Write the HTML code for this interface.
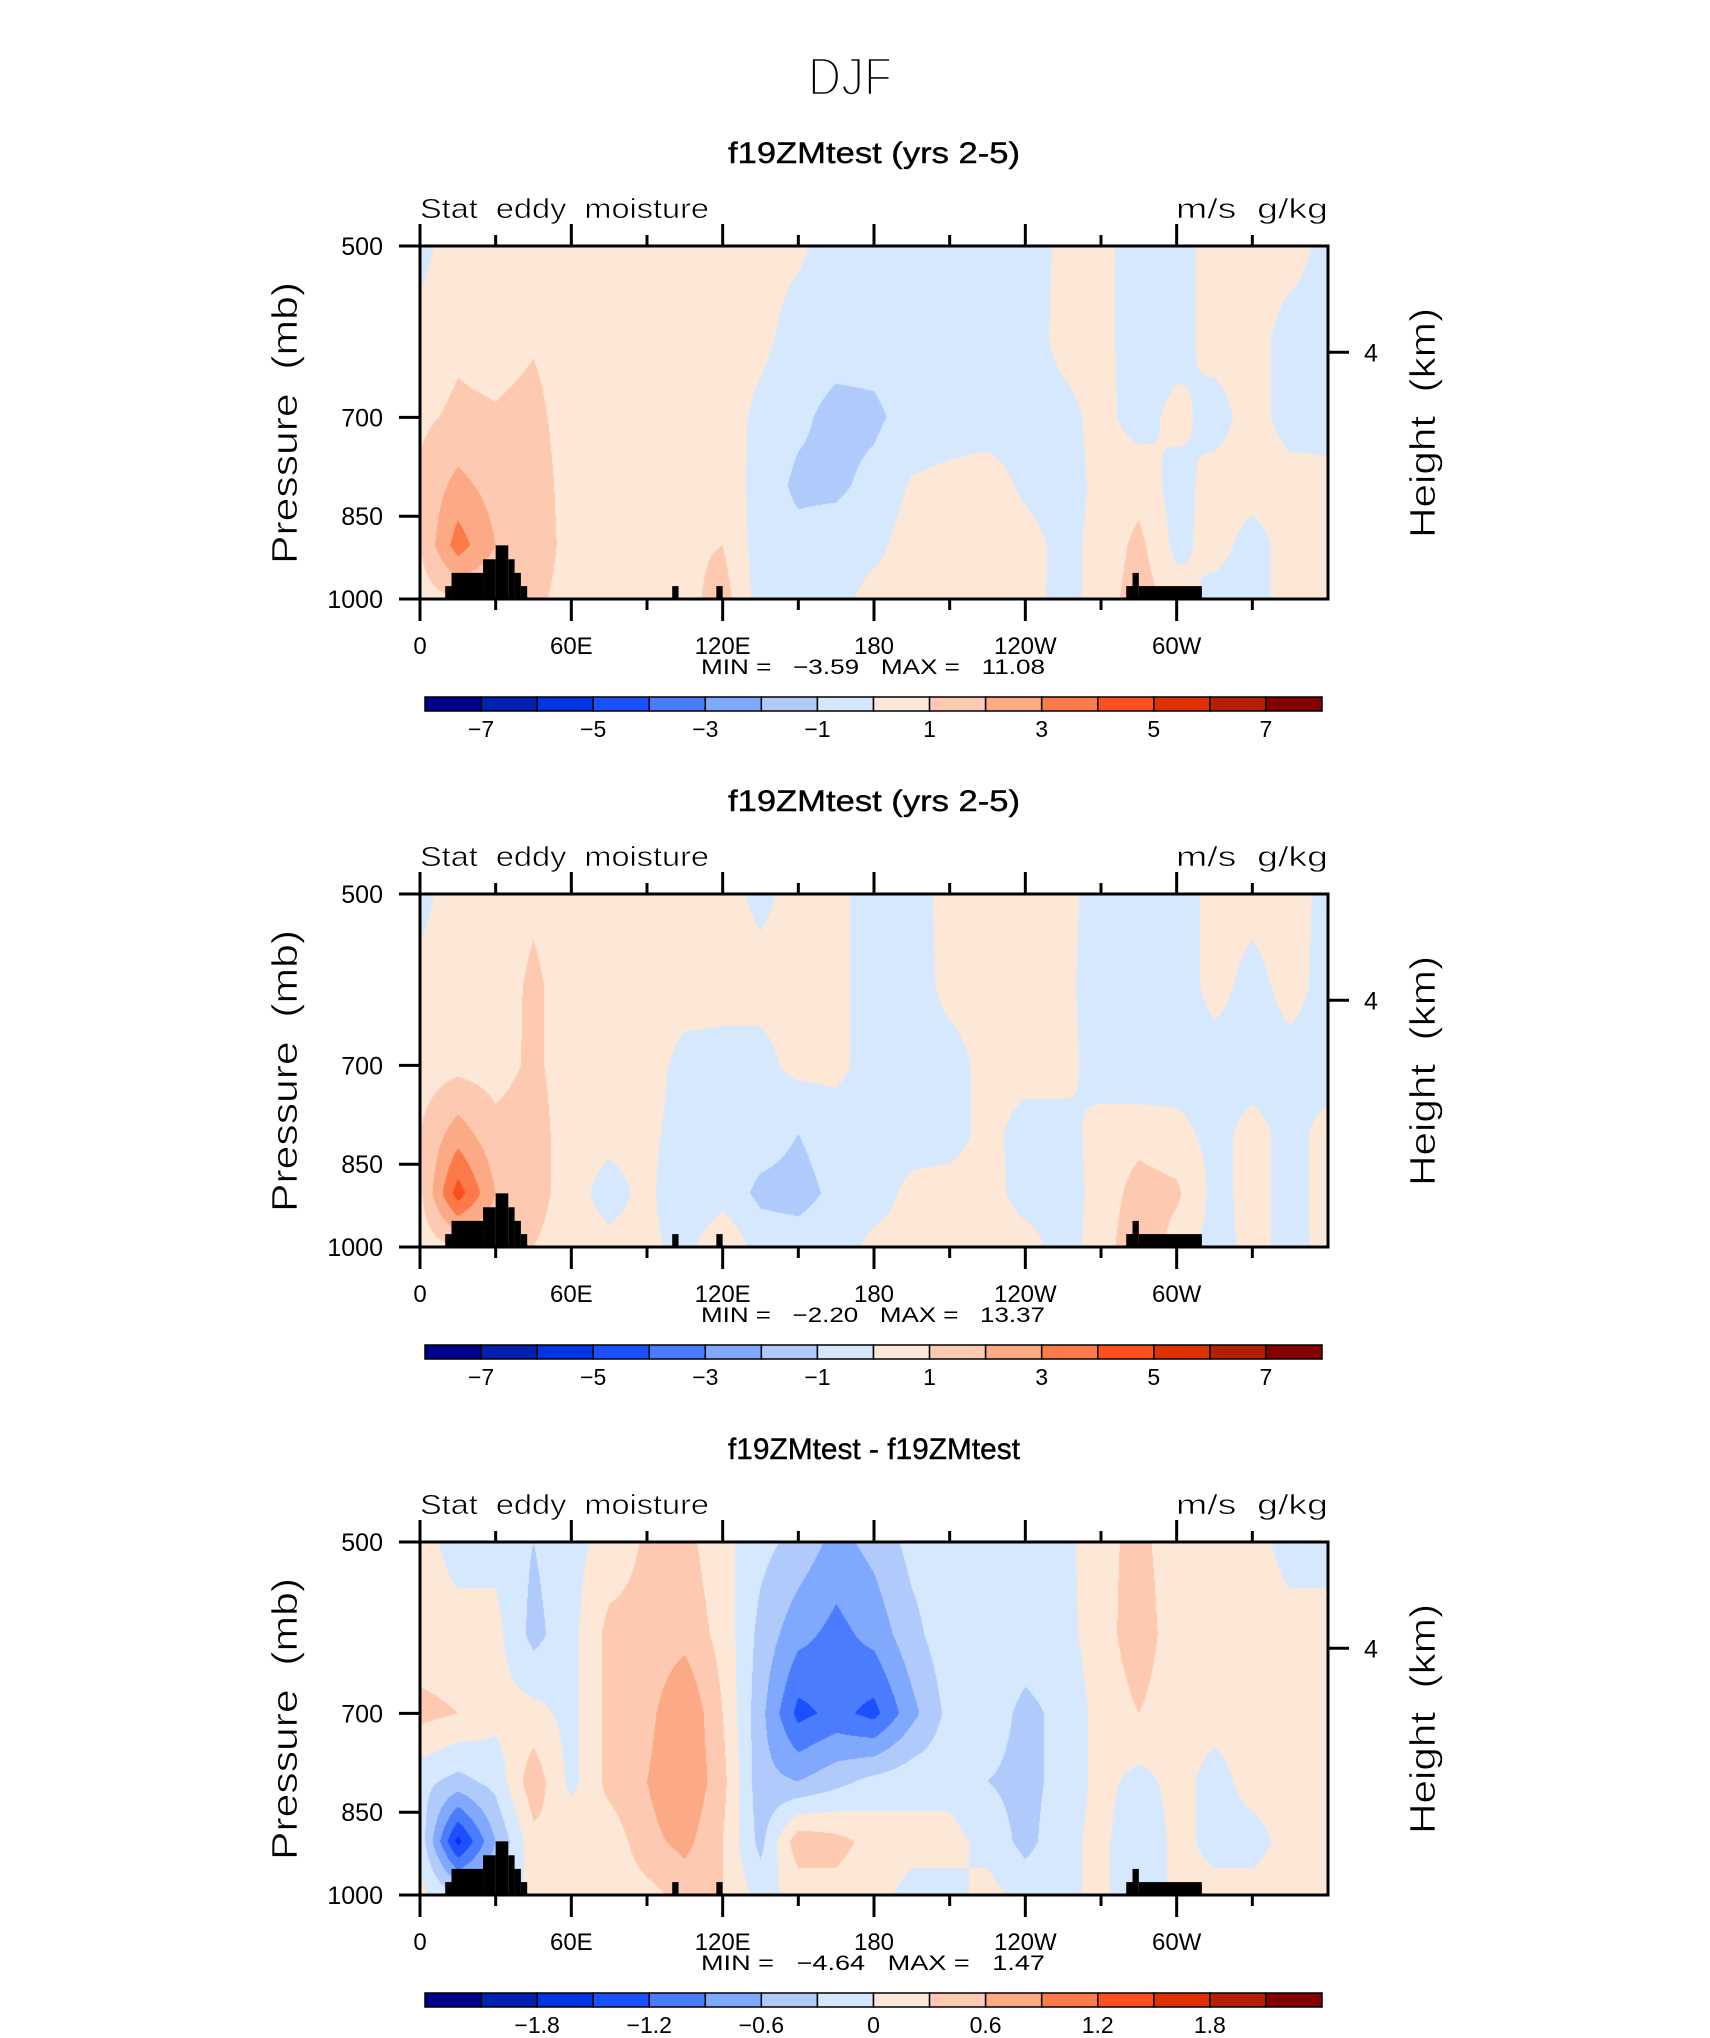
<!DOCTYPE html>
<html><head><meta charset="utf-8">
<style>
html,body{margin:0;padding:0;background:#fff;}
#root{position:relative;width:1710px;height:2038px;overflow:hidden;background:#fff;}
canvas{position:absolute;}
svg{position:absolute;left:0;top:0;}
text{font-family:"Liberation Sans",sans-serif;fill:#000;white-space:pre;}
.thin{stroke:#fff;stroke-width:0.6px;}
</style></head>
<body>
<div id="root">
<svg id="ov" width="1710" height="2038">
<text x="850" y="95" font-size="54" text-anchor="middle" textLength="84" lengthAdjust="spacingAndGlyphs" style="stroke:#fff;stroke-width:2.6px">DJF</text>
</svg>
</div>
<script>
// ---------- data ----------
const lons = [0,15,30,45,60,75,90,105,120,135,150,165,180,195,210,225,240,255,270,285,300,315,330,345,360];
const levels = [500,600,700,800,900,1000];
const field1 = [
 [-0.3,0.5,0.6,0.7,0.4,0.4,0.4,0.6,0.5,0.4,0.2,-0.5,-0.5,-0.5,-0.5,-0.5,-0.5,0.2,0.3,-0.5,-0.4,0.4,0.4,0.4,-0.3],
 [0.3,0.8,0.6,0.9,0.5,0.4,0.4,0.5,0.5,0.3,-0.5,-0.6,-0.6,-0.5,-0.5,-0.5,-0.5,0.3,0.3,-0.5,-0.4,0.4,0.4,-0.4,-0.4],
 [0.8,1.2,1.1,1.3,0.5,0.4,0.4,0.6,0.6,-0.3,-0.8,-1.3,-1.2,-0.6,-0.5,-0.5,-0.5,-0.3,0.3,-0.4,0.3,-0.4,0.4,-0.4,-0.4],
 [1.2,2.3,1.6,1.6,0.5,0.4,0.4,0.6,0.8,-0.5,-1.2,-1.2,-0.7,0.1,0.3,0.5,-0.2,-0.5,0.3,0.6,-0.4,0.4,0.4,0.4,0.3],
 [1.0,3.5,2.0,1.8,0.5,0.4,0.4,0.8,1.0,-0.5,-0.7,-0.5,-0.3,0.5,0.5,0.5,0.4,-0.3,0.3,1.3,-0.3,0.4,-0.4,0.4,0.4],
 [0.5,1.0,1.0,1.3,0.5,0.4,0.4,0.6,1.5,-0.5,-0.5,-0.4,0.4,0.5,0.5,0.5,0.5,-0.4,0.4,1.6,0.5,-0.4,-0.4,0.4,0.4]
];
const field2 = [
 [-0.3,0.5,0.5,0.8,0.5,0.5,0.4,0.4,0.3,-0.2,0.3,0.3,-0.5,-0.5,0.4,0.4,0.4,0.3,-0.4,-0.8,-0.5,0.3,0.3,0.4,-0.3],
 [0.3,0.5,0.5,1.2,0.5,0.5,0.4,0.4,0.3,0.3,0.3,0.3,-0.5,-0.5,0.3,0.4,0.4,0.2,-0.4,-0.8,-0.5,0.3,-0.3,0.3,-0.3],
 [0.5,0.7,0.6,1.2,0.5,0.5,0.4,-0.3,-0.3,-0.3,0.3,0.3,-0.5,-0.5,-0.4,0.3,0.4,0.3,-0.4,-0.8,-0.5,-0.4,-0.4,-0.3,-0.4],
 [1.0,2.5,1.3,1.5,0.4,0.3,0.3,-0.5,-0.5,-0.6,-1.0,-0.6,-0.5,-0.5,-0.4,0.3,-0.4,-0.3,0.3,0.6,0.3,-0.3,0.3,-0.3,0.3],
 [0.8,4.5,2.0,1.5,0.4,-0.4,0.3,-1.0,-0.5,-1.2,-1.3,-0.8,-0.5,0.3,0.4,0.4,-0.4,-0.4,0.3,1.5,1.2,-0.3,0.3,-0.3,0.3],
 [0.4,1.0,1.0,1.0,0.4,0.3,0.3,-0.4,1.0,-0.5,-0.6,-0.5,0.3,0.4,0.4,0.5,0.4,-0.4,0.4,2.0,0.5,-0.4,0.3,-0.3,0.3]
];
const field3 = [
 [0.1,-0.1,-0.1,-0.3,-0.1,0.1,0.35,0.4,0.1,-0.2,-0.4,-0.7,-0.5,-0.2,-0.1,-0.1,-0.1,-0.1,0.2,0.4,0.1,0.1,0.1,-0.1,-0.1],
 [0.1,0.1,0.1,-0.4,-0.1,0.4,0.4,0.5,0.2,-0.4,-0.8,-1.0,-0.8,-0.4,-0.1,-0.1,-0.1,-0.1,0.15,0.5,0.1,0.1,0.1,0.1,0.1],
 [0.4,0.3,0.1,0.1,-0.1,0.4,0.5,0.9,0.3,-0.5,-1.3,-1.1,-1.3,-0.7,-0.2,-0.1,-0.4,-0.2,0.1,0.3,0.1,0.1,0.1,0.1,0.1],
 [-0.2,-0.4,-0.2,0.5,-0.1,0.4,0.6,0.9,0.4,-0.5,-0.6,-0.4,-0.2,-0.1,-0.1,-0.3,-0.4,-0.2,0.1,-0.1,0.1,-0.1,0.1,0.1,0.1],
 [-0.1,-1.6,-0.6,0.2,0.3,0.1,0.5,0.7,0.3,-0.4,0.5,0.4,0.2,0.1,0.1,-0.1,-0.4,-0.1,0.1,-0.3,0.1,-0.1,-0.1,0.1,0.1],
 [0.1,-0.3,-0.3,0.1,0.1,0.1,0.2,0.4,0.3,-0.1,0.1,0.2,0.1,-0.1,-0.1,0.1,-0.1,-0.1,0.1,-0.3,0.1,0.1,0.1,0.1,0.1]
];
// topography blocks: [lonStart, lonEnd, surfacePressure]
const topoStart = [10,12.5,25,30,35,37.5,40,100,117.5,280,282.5,285];
const topoEnd   = [12.5,25,30,35,37.5,40,42.5,102.5,120,282.5,285,310];
const topoPs    = [975,950,925,900,925,950,975,975,975,975,950,975];
const colors = ["#00008a","#0020b0","#0034e0","#1b4fff","#4a7cfd","#80a8fc","#b0cbfb","#d6e8fd","#fde8d7","#fdcab1","#fca985","#fc7a4a","#fc4f1b","#e03200","#b52000","#850000"];
const labels12 = ["-7","-5","-3","-1","1","3","5","7"];
const labels3 = ["-1.8","-1.2","-0.6","0","0.6","1.2","1.8"];
const xTickLabels = ["0","60E","120E","180","120W","60W"];
const yTickLabels = [500,700,850,1000];
const panelTitles = ["f19ZMtest (yrs 2-5)","f19ZMtest (yrs 2-5)","f19ZMtest - f19ZMtest"];
const minVals = ["-3.59","-2.20","-4.64"];
const maxVals = ["11.08","13.37","1.47"];

// ---------- geometry ----------
const PL=420, PR=1328, PT0=246, PH=353, DY=648;
function xOf(lon){return PL+(lon/360)*(PR-PL);}
function yOf(p,top){return top+PH*Math.log(p/500)/Math.log(2);}
function pOf(y,top){return 500*Math.pow(2,(y-top)/PH);}
const NS="http://www.w3.org/2000/svg";
const svg=document.getElementById('ov');
function mk(tag,attrs,txt){const e=document.createElementNS(NS,tag);for(const k in attrs)e.setAttribute(k,attrs[k]);if(txt!==undefined)e.textContent=txt;svg.appendChild(e);return e;}

function sample(field,lon,p){
  let fi=lon/15; let i=Math.min(Math.floor(fi),lons.length-2); let tx=fi-i;
  let lp=Math.log(p);
  let j=0; while(j<levels.length-2 && Math.log(levels[j+1])<lp) j++;
  let ty=(lp-Math.log(levels[j]))/(Math.log(levels[j+1])-Math.log(levels[j]));
  ty=Math.max(0,Math.min(1,ty));
  const a=field[j][i],b=field[j][i+1],c=field[j+1][i],d=field[j+1][i+1];
  return (a*(1-tx)+b*tx)*(1-ty)+(c*(1-tx)+d*tx)*ty;
}
function hexRgb(h){return [parseInt(h.substr(1,2),16),parseInt(h.substr(3,2),16),parseInt(h.substr(5,2),16)];}
const rgbs=colors.map(hexRgb);

function drawPanel(k,field,step){
  const top=PT0+k*DY;
  const root=document.getElementById('root');
  const cv=document.createElement('canvas');
  
  
  const W=PR-PL, H=PH;
  cv.width=W; cv.height=H; cv.style.left=PL+'px'; cv.style.top=top+'px';
  root.insertBefore(cv,svg);
  const ctx=cv.getContext('2d'); const img=ctx.createImageData(W,H);
  for(let y=0;y<H;y++){const p=pOf(top+y+0.5,top);
    for(let x=0;x<W;x++){const lon=(x+0.5)/W*360;
      const v=sample(field,lon,p);
      let bi=Math.floor(v/step)+8; bi=Math.max(0,Math.min(15,bi));
      const c=rgbs[bi]; const o=(y*W+x)*4;
      img.data[o]=c[0];img.data[o+1]=c[1];img.data[o+2]=c[2];img.data[o+3]=255;}}
  ctx.putImageData(img,0,0);
  for(let t=0;t<topoStart.length;t++){
    const r=mk('rect',{x:xOf(topoStart[t]),y:yOf(topoPs[t],top),width:xOf(topoEnd[t])-xOf(topoStart[t]),height:yOf(1000,top)-yOf(topoPs[t],top),fill:'#000'});
    
    
  }
  const fr=mk('rect',{x:PL,y:top,width:PR-PL,height:PH,fill:'none',stroke:'#000','stroke-width':3});
  
  
  for(let lon=0;lon<=330;lon+=30){
    const major=lon%60===0; const L=major?22:11; const x=xOf(lon);
    const t1=mk('line',{x1:x,x2:x,y1:top,y2:top-L,stroke:'#000','stroke-width':3});
    
    
    const t2=mk('line',{x1:x,x2:x,y1:top+PH,y2:top+PH+L,stroke:'#000','stroke-width':3});
    
    
  }
  xTickLabels.forEach((s,i)=>{
    const t=mk('text',{x:xOf(i*60),y:top+408,'font-size':24,'text-anchor':'middle'},s);
    
    
  });
  yTickLabels.forEach(p=>{
    const y=yOf(p,top);
    const l=mk('line',{x1:PL-21,x2:PL,y1:y,y2:y,stroke:'#000','stroke-width':3});
    
    
    const t=mk('text',{x:383,y:y+9,'font-size':25,'text-anchor':'end'},String(p));
    
    
  });
  const hy=yOf(616,top);
  const hl=mk('line',{x1:PR,x2:PR+21,y1:hy,y2:hy,stroke:'#000','stroke-width':3});
  
  
  const ht=mk('text',{x:1371,y:hy+9,'font-size':25,'text-anchor':'middle'},'4');
  
  
  const tt=mk('text',{x:874,y:top-83,'font-size':30,'text-anchor':'middle',textLength:292,lengthAdjust:'spacingAndGlyphs',style:'stroke:#000;stroke-width:0.4px'},panelTitles[k]);
  
  
  const ls=mk('text',{x:PL,y:top-28,'font-size':28,textLength:289,lengthAdjust:'spacingAndGlyphs','class':'thin'},'Stat  eddy  moisture');
  
  
  const rs=mk('text',{x:PR-152,y:top-28,'font-size':28,textLength:152,lengthAdjust:'spacingAndGlyphs','class':'thin'},'m/s  g/kg');
  
  
  const yl=mk('text',{x:0,y:0,'font-size':36,'text-anchor':'middle',textLength:282,lengthAdjust:'spacingAndGlyphs','class':'thin',transform:`translate(297,${top+177}) rotate(-90)`},'Pressure  (mb)');
  
  
  const hr=mk('text',{x:0,y:0,'font-size':36,'text-anchor':'middle',textLength:230,lengthAdjust:'spacingAndGlyphs','class':'thin',transform:`translate(1435,${top+177}) rotate(-90)`},'Height  (km)');
  
  
  const mm=mk('text',{x:701,y:top+428,'font-size':21,textLength:344,lengthAdjust:'spacingAndGlyphs'},'MIN =   '+minVals[k].replace('-','\u2212')+'   MAX =   '+maxVals[k]);
  
  
  const cx0=425,cx1=1322,cy=top+451,ch=14,bw=(cx1-cx0)/16;
  colors.forEach((c,i)=>{
    const r=mk('rect',{x:cx0+i*bw,y:cy,width:bw,height:ch,fill:c,stroke:'#000','stroke-width':1.5});
    
    
  });
  const labs=k<2?labels12:labels3;
  labs.forEach((s,i)=>{
    const idx=k<2?(1+2*i):(2+2*i);
    const t=mk('text',{x:cx0+idx*bw,y:cy+40,'font-size':23,'text-anchor':'middle'},s.replace('-','\u2212'));
    
    
  });
}
drawPanel(0,field1,1);
drawPanel(1,field2,1);
drawPanel(2,field3,0.3);
</script>
</body></html>
